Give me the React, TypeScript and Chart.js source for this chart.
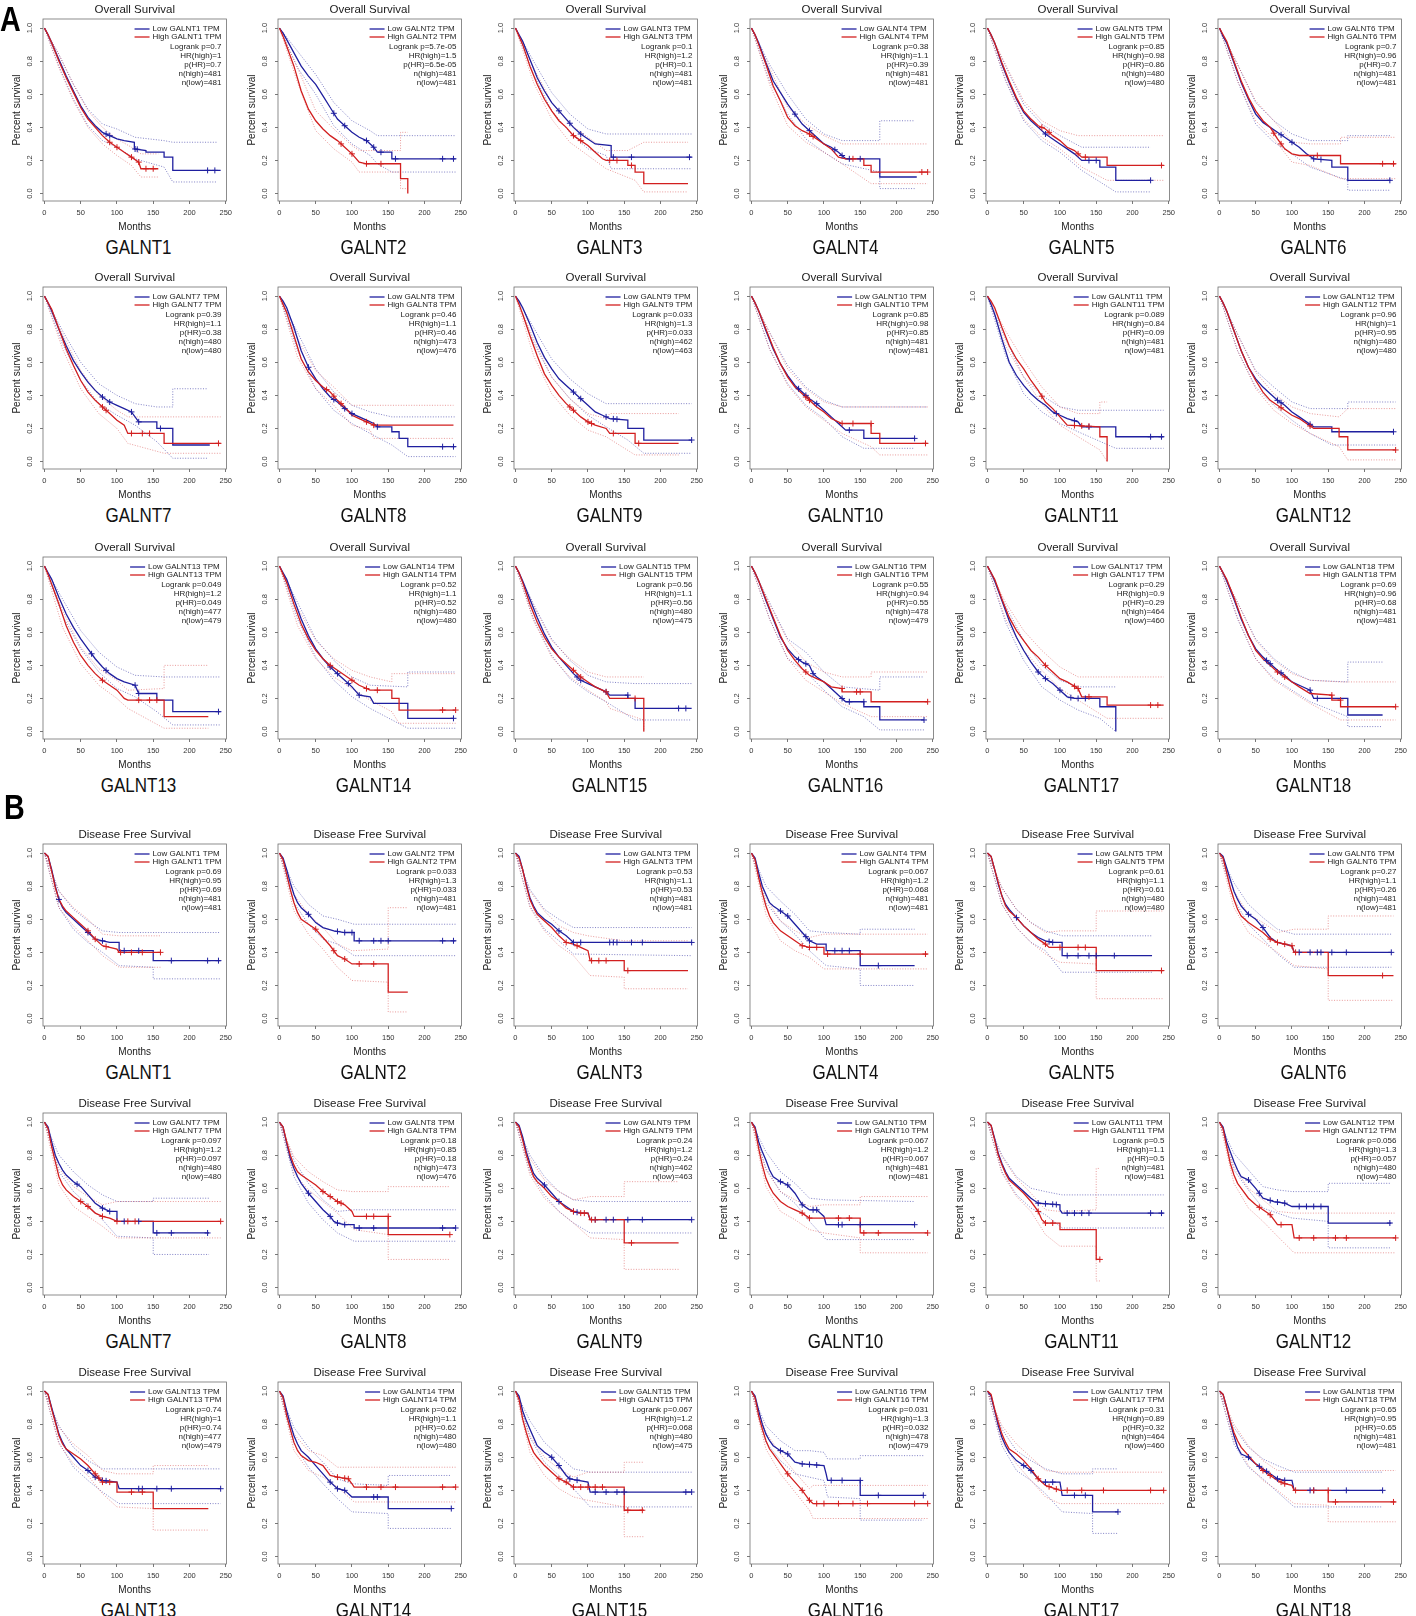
import React, { useEffect, useRef } from 'react';
import { Chart, registerables } from 'chart.js';
Chart.register(...registerables);

const FONT = "'Liberation Sans', Arial, Helvetica, sans-serif";
const BLUE = '#1f1f9f';
const RED = '#d21f1f';
const BLUE_CI = 'rgba(45,45,160,0.75)';
const RED_CI = 'rgba(215,75,75,0.7)';

const GENES = ['GALNT1','GALNT2','GALNT3','GALNT4','GALNT5','GALNT6','GALNT7','GALNT8','GALNT9','GALNT10','GALNT11','GALNT12','GALNT13','GALNT14','GALNT15','GALNT16','GALNT17','GALNT18'];
const X_TICKS = [0, 50, 100, 150, 200, 250];
const Y_TICKS = [0, 0.2, 0.4, 0.6, 0.8, 1];

// ---------- Overall survival: stats ----------
const osLogrank = ['0.7','5.7e-05','0.1','0.38','0.85','0.7','0.39','0.46','0.033','0.85','0.089','0.96','0.049','0.52','0.56','0.55','0.29','0.69'];
const osHR = ['1','1.5','1.2','1.1','0.98','0.96','1.1','1.1','1.3','0.98','0.84','1','1.2','1.1','1.1','0.94','0.9','0.96'];
const osPHR = ['0.7','6.5e-05','0.1','0.39','0.86','0.7','0.38','0.46','0.033','0.85','0.09','0.95','0.049','0.52','0.56','0.55','0.29','0.68'];
const osNHigh = [481,481,481,481,480,481,480,473,462,481,481,480,477,480,480,478,464,481];
const osNLow = [481,481,481,481,480,481,480,476,463,481,481,480,479,480,475,479,460,481];

// ---------- Disease free survival: stats ----------
const dfsLogrank = ['0.69','0.033','0.53','0.067','0.61','0.27','0.097','0.18','0.24','0.067','0.5','0.056','0.74','0.62','0.067','0.031','0.31','0.65'];
const dfsHR = ['0.95','1.3','1.1','1.2','1.1','1.1','1.2','0.85','1.2','1.2','1.1','1.3','1','1.1','1.2','1.3','0.89','0.95'];
const dfsPHR = ['0.69','0.033','0.53','0.068','0.61','0.26','0.097','0.18','0.24','0.067','0.5','0.057','0.74','0.62','0.068','0.032','0.32','0.65'];
const dfsNHigh = [481,481,481,481,480,481,480,473,462,481,481,480,477,480,480,478,464,481];
const dfsNLow = [481,481,481,481,480,481,480,476,463,481,481,480,479,480,475,479,460,481];

// ---------- OS curves (month, survival pairs) ----------
const osLow = [
  [0,1,5,.96,10,.91,20,.81,30,.71,40,.62,50,.53,60,.46,70,.41,80,.37,90,.35,100,.33,110,.32,124,.31,124,.27,140,.26,140,.25,165,.25,165,.22,177,.22,177,.14,243,.14],
  [0,1,5,.97,10,.93,20,.85,30,.77,40,.71,50,.66,60,.59,70,.52,80,.45,90,.41,100,.37,110,.34,120,.32,130,.28,135,.25,155,.25,155,.21,243,.21],
  [0,1,5,.96,10,.92,20,.81,30,.70,40,.62,50,.55,60,.50,70,.45,80,.40,90,.36,100,.33,110,.30,132,.29,132,.22,243,.22],
  [0,1,5,.96,10,.91,20,.79,30,.68,40,.61,50,.54,60,.48,70,.42,80,.38,90,.34,100,.30,110,.28,120,.25,130,.21,177,.21,177,.10,228,.10],
  [0,1,5,.96,10,.91,20,.78,30,.67,40,.57,50,.49,60,.44,70,.40,80,.36,90,.33,100,.30,110,.27,120,.24,130,.20,155,.20,155,.16,177,.16,177,.08,225,.08],
  [0,1,5,.95,10,.91,20,.79,30,.67,40,.57,50,.48,60,.43,70,.40,80,.37,90,.34,100,.31,110,.28,120,.24,130,.21,155,.20,155,.16,177,.16,177,.08,236,.08],
  [0,1,5,.96,10,.91,20,.80,30,.70,40,.61,50,.54,60,.48,70,.43,80,.39,90,.36,100,.34,110,.32,120,.30,130,.24,155,.24,155,.20,177,.20,177,.10,228,.10],
  [0,1,5,.97,10,.93,20,.81,30,.67,40,.57,50,.50,60,.44,70,.39,80,.36,90,.32,100,.29,110,.27,120,.25,130,.23,135,.21,155,.21,155,.18,165,.18,165,.14,177,.14,177,.09,243,.09],
  [0,1,5,.97,10,.93,20,.83,30,.72,40,.63,50,.56,60,.50,70,.46,80,.42,90,.38,100,.34,110,.30,120,.28,130,.26,155,.25,155,.20,177,.20,177,.13,243,.13],
  [0,1,5,.96,10,.91,20,.79,30,.68,40,.59,50,.52,60,.46,70,.42,80,.38,90,.35,100,.31,110,.27,120,.23,130,.19,155,.19,155,.14,225,.14],
  [0,1,5,.95,10,.89,20,.74,30,.60,40,.52,50,.46,60,.41,70,.37,80,.34,90,.30,100,.28,110,.26,125,.24,130,.21,177,.21,177,.15,243,.15],
  [0,1,5,.96,10,.91,20,.79,30,.67,40,.57,50,.50,60,.45,70,.41,80,.37,90,.34,100,.30,110,.27,120,.24,130,.21,155,.21,155,.18,240,.18],
  [0,1,5,.96,10,.92,20,.81,30,.71,40,.63,50,.56,60,.50,70,.44,80,.39,90,.35,100,.32,110,.30,125,.28,130,.23,155,.23,155,.19,177,.19,177,.12,243,.12],
  [0,1,5,.96,10,.92,20,.80,30,.68,40,.58,50,.50,60,.44,70,.39,80,.35,90,.31,100,.27,110,.22,125,.21,130,.17,177,.17,177,.08,240,.08],
  [0,1,5,.96,10,.91,20,.80,30,.69,40,.59,50,.51,60,.45,70,.40,80,.35,90,.31,100,.29,110,.27,125,.24,130,.22,155,.22,155,.20,165,.20,165,.14,243,.14],
  [0,1,5,.96,10,.91,20,.79,30,.68,40,.57,50,.50,60,.45,70,.42,80,.40,85,.35,90,.33,100,.30,110,.26,120,.22,130,.18,155,.18,155,.15,177,.15,177,.07,238,.07],
  [0,1,5,.96,10,.91,20,.79,30,.67,40,.57,50,.49,60,.42,70,.36,80,.32,90,.29,100,.25,110,.21,120,.20,155,.20,155,.15,177,.15,177,0],
  [0,1,5,.96,10,.91,20,.80,30,.68,40,.58,50,.50,60,.45,70,.41,80,.37,90,.34,100,.30,110,.28,125,.25,130,.20,177,.20,177,.10,225,.10],
];
const osHigh = [
  [0,1,5,.96,10,.91,20,.80,30,.70,40,.61,50,.52,60,.45,70,.40,80,.35,90,.31,100,.28,110,.25,120,.22,130,.19,133,.15,157,.15],
  [0,1,5,.95,10,.89,20,.77,30,.62,40,.51,50,.44,60,.39,70,.35,80,.32,90,.28,100,.24,110,.19,120,.18,167,.18,167,.09,177,.09,177,0],
  [0,1,5,.95,10,.90,20,.77,30,.66,40,.57,50,.50,60,.44,70,.40,80,.35,90,.32,100,.29,110,.25,120,.21,125,.20,155,.20,155,.17,165,.17,165,.13,177,.13,177,.06,238,.06],
  [0,1,5,.96,10,.90,20,.78,30,.65,40,.56,50,.46,60,.41,70,.38,80,.36,90,.33,100,.30,110,.27,120,.22,130,.21,155,.21,155,.17,165,.17,165,.13,243,.13],
  [0,1,5,.96,10,.91,20,.79,30,.68,40,.58,50,.50,60,.45,70,.41,80,.39,90,.35,100,.32,110,.28,120,.26,130,.22,165,.22,165,.17,243,.17],
  [0,1,5,.96,10,.92,20,.80,30,.68,40,.58,50,.50,60,.44,70,.40,80,.33,90,.27,100,.24,110,.23,167,.23,167,.18,243,.18],
  [0,1,5,.96,10,.92,20,.80,30,.68,40,.58,50,.49,60,.42,70,.37,80,.33,90,.29,100,.25,110,.22,115,.17,165,.17,165,.11,243,.11],
  [0,1,5,.95,10,.90,20,.76,30,.62,40,.54,50,.49,60,.45,70,.42,80,.37,90,.33,100,.28,110,.26,120,.24,130,.22,240,.22],
  [0,1,5,.95,10,.89,20,.76,30,.64,40,.53,50,.46,60,.40,70,.35,80,.31,90,.27,100,.24,110,.22,125,.20,130,.17,165,.17,165,.11,225,.11],
  [0,1,5,.96,10,.91,20,.80,30,.69,40,.59,50,.51,60,.45,70,.41,80,.37,90,.33,100,.30,110,.26,125,.23,165,.23,165,.17,177,.17,177,.11,243,.11],
  [0,1,5,.97,10,.93,20,.81,30,.70,40,.62,50,.56,60,.49,70,.43,80,.36,90,.32,100,.27,110,.22,155,.21,155,.15,165,.15,165,0],
  [0,1,5,.96,10,.91,20,.79,30,.67,40,.57,50,.49,60,.42,70,.37,80,.34,90,.31,100,.28,110,.26,120,.23,130,.20,165,.20,165,.15,177,.15,177,.07,243,.07],
  [0,1,5,.95,10,.89,20,.77,30,.64,40,.54,50,.46,60,.40,70,.35,80,.31,90,.28,100,.25,110,.20,115,.19,165,.19,165,.09,226,.09],
  [0,1,5,.95,10,.90,20,.77,30,.65,40,.56,50,.49,60,.44,70,.40,80,.37,90,.34,100,.31,110,.28,125,.25,155,.25,155,.20,165,.20,165,.13,243,.13],
  [0,1,5,.96,10,.90,20,.77,30,.66,40,.57,50,.50,60,.45,70,.41,80,.37,90,.33,100,.30,110,.27,125,.24,130,.20,177,.20,177,0],
  [0,1,5,.96,10,.91,20,.80,30,.69,40,.58,50,.49,60,.43,70,.38,80,.34,90,.32,100,.30,110,.27,125,.26,125,.24,165,.24,165,.18,243,.18],
  [0,1,5,.96,10,.92,20,.80,30,.69,40,.61,50,.55,60,.49,70,.45,80,.40,90,.36,100,.32,110,.30,125,.26,130,.21,165,.21,165,.16,243,.16],
  [0,1,5,.96,10,.92,20,.81,30,.69,40,.58,50,.49,60,.44,70,.40,80,.36,90,.33,100,.30,110,.27,125,.23,155,.22,155,.19,167,.19,167,.15,243,.15],
];
const osLowUp = [
  [0,1,20,.84,40,.66,60,.51,80,.42,100,.39,125,.34,165,.32,177,.31,238,.31],
  [0,1,25,.86,50,.72,75,.55,100,.44,125,.38,135,.35,243,.35],
  [0,1,25,.80,50,.61,75,.48,100,.39,125,.36,243,.36],
  [0,1,25,.78,50,.60,75,.45,100,.36,125,.32,177,.32,177,.44,225,.44],
  [0,1,25,.77,50,.54,75,.42,100,.35,130,.28,225,.28],
  [0,1,25,.78,50,.55,75,.44,100,.36,125,.32,177,.32,177,.35,236,.35],
  [0,1,25,.79,50,.60,75,.47,100,.40,125,.35,155,.33,177,.33,177,.44,225,.44],
  [0,1,25,.78,50,.56,75,.42,100,.34,125,.30,155,.27,243,.27],
  [0,1,25,.81,50,.62,75,.50,100,.41,125,.35,243,.35],
  [0,1,25,.78,50,.58,75,.45,100,.37,125,.33,243,.33],
  [0,1,25,.74,50,.51,75,.40,100,.33,125,.31,243,.31],
  [0,1,25,.77,50,.55,75,.45,100,.36,125,.32,177,.32,177,.36,243,.36],
  [0,1,25,.80,50,.61,75,.48,100,.39,125,.34,165,.33,243,.33],
  [0,1,25,.78,50,.56,75,.43,100,.33,125,.28,177,.27,177,.36,243,.36],
  [0,1,25,.77,50,.56,75,.43,100,.34,125,.30,165,.29,243,.29],
  [0,1,25,.78,50,.56,75,.48,100,.36,125,.27,177,.25,177,.33,238,.33],
  [0,1,25,.76,50,.55,75,.40,100,.31,125,.27,177,.27],
  [0,1,25,.78,50,.56,75,.44,100,.36,125,.31,177,.30,177,.42,225,.42],
];
const osLowDn = [
  [0,1,20,.77,40,.57,60,.41,80,.32,100,.28,125,.21,165,.16,177,.07,238,.07],
  [0,1,25,.76,50,.60,75,.41,100,.30,125,.23,135,.18,155,.13,243,.13],
  [0,1,25,.72,50,.50,75,.37,100,.27,125,.23,132,.15,243,.15],
  [0,1,25,.68,50,.48,75,.33,100,.25,125,.18,177,.13,177,.03,225,.03],
  [0,1,25,.68,50,.44,75,.32,100,.25,130,.14,177,.01,225,.01],
  [0,1,25,.68,50,.42,75,.31,100,.24,125,.16,177,.08,177,.02,236,.02],
  [0,1,25,.71,50,.49,75,.35,100,.28,125,.22,155,.12,177,.02,225,.02],
  [0,1,25,.67,50,.44,75,.31,100,.23,125,.17,155,.10,177,.03,243,.03],
  [0,1,25,.72,50,.51,75,.38,100,.28,125,.21,155,.13,177,.05,243,.05],
  [0,1,25,.68,50,.47,75,.34,100,.26,125,.15,155,.08,225,.08],
  [0,1,25,.64,50,.41,75,.30,100,.23,125,.18,177,.08,243,.08],
  [0,1,25,.67,50,.45,75,.34,100,.25,125,.17,155,.10,243,.10],
  [0,1,25,.70,50,.50,75,.36,100,.26,125,.21,155,.12,177,.04,243,.04],
  [0,1,25,.68,50,.45,75,.31,100,.21,125,.14,177,.02,243,.02],
  [0,1,25,.68,50,.46,75,.32,100,.24,125,.18,165,.07,243,.07],
  [0,1,25,.68,50,.44,75,.36,100,.25,125,.15,155,.09,177,.01,238,.01],
  [0,1,25,.66,50,.43,75,.27,100,.19,125,.13,155,.08,177,0],
  [0,1,25,.68,50,.44,75,.32,100,.25,125,.18,177,.09,177,.03,225,.03],
];
const osHighUp = [
  [0,1,20,.84,40,.66,60,.50,80,.40,100,.33,120,.28,133,.24,157,.24],
  [0,1,25,.76,50,.50,75,.39,100,.29,110,.26,167,.26,167,.37,177,.37],
  [0,1,25,.76,50,.55,75,.42,100,.34,125,.26,155,.26,177,.31,238,.31],
  [0,1,25,.76,50,.52,75,.42,100,.35,125,.30,165,.30,243,.30],
  [0,1,25,.78,50,.56,75,.44,100,.38,125,.35,243,.35],
  [0,1,25,.78,50,.56,75,.44,100,.31,125,.30,167,.30,167,.34,243,.34],
  [0,1,25,.77,50,.55,75,.40,100,.31,115,.27,243,.27],
  [0,1,25,.74,50,.55,75,.45,100,.34,125,.34,240,.34],
  [0,1,25,.74,50,.51,75,.38,100,.29,125,.26,130,.29,225,.29],
  [0,1,25,.78,50,.56,75,.44,100,.36,125,.33,243,.33],
  [0,1,25,.79,50,.61,75,.45,100,.33,125,.29,155,.29,155,.36,165,.36],
  [0,1,25,.77,50,.54,75,.41,100,.33,125,.29,165,.27,177,.32,243,.32],
  [0,1,25,.73,50,.51,75,.38,100,.31,115,.25,165,.26,165,.40,226,.40],
  [0,1,25,.75,50,.55,75,.44,100,.37,125,.33,155,.30,155,.35,243,.35],
  [0,1,25,.76,50,.55,75,.44,100,.36,125,.33,177,.33],
  [0,1,25,.77,50,.55,75,.42,100,.36,125,.33,165,.33,165,.36,243,.36],
  [0,1,25,.78,50,.61,75,.49,100,.39,125,.33,243,.33],
  [0,1,25,.78,50,.55,75,.43,100,.35,125,.31,167,.30,243,.30],
];
const osHighDn = [
  [0,1,20,.76,40,.56,60,.40,80,.30,100,.23,120,.17,133,.10,157,.10],
  [0,1,25,.67,50,.38,75,.27,100,.19,110,.13,167,.13,167,.03,177,.03],
  [0,1,25,.67,50,.45,75,.31,100,.23,125,.15,165,.08,177,.01,238,.01],
  [0,1,25,.66,50,.41,75,.31,100,.25,125,.18,165,.06,243,.06],
  [0,1,25,.69,50,.45,75,.34,100,.27,130,.16,165,.08,243,.08],
  [0,1,25,.68,50,.44,75,.33,100,.19,125,.17,167,.09,243,.09],
  [0,1,25,.68,50,.44,75,.29,100,.20,115,.11,165,.05,243,.05],
  [0,1,25,.63,50,.44,75,.34,100,.22,125,.19,130,.14,240,.14],
  [0,1,25,.64,50,.41,75,.28,100,.19,125,.15,165,.04,225,.04],
  [0,1,25,.68,50,.46,75,.33,100,.25,125,.17,165,.09,177,.04,243,.04],
  [0,1,25,.70,50,.51,75,.35,100,.22,125,.15,155,.07,165,0],
  [0,1,25,.67,50,.44,75,.31,100,.23,125,.17,165,.09,177,.01,243,.01],
  [0,1,25,.63,50,.41,75,.28,100,.20,115,.14,165,.02,226,.02],
  [0,1,25,.64,50,.44,75,.33,100,.26,125,.19,155,.12,165,.05,243,.05],
  [0,1,25,.67,50,.45,75,.33,100,.25,125,.18,130,.14,177,.07,177,0],
  [0,1,25,.68,50,.44,75,.31,100,.24,125,.17,165,.09,243,.09],
  [0,1,25,.68,50,.49,75,.37,100,.26,125,.19,165,.08,243,.08],
  [0,1,25,.69,50,.44,75,.31,100,.24,125,.17,167,.07,243,.07],
];
const osLowC = [
  [85,90,125,128,225,235],[75,90,120,130,140,160,225,240],[60,75,90,135,160,240],[60,80,115,125,135,150],
  [80,140,150,225],[85,100,130,140,235],[80,90,120,130,160],[40,75,90,100,135,225,240],
  [80,90,125,135,140,243],[65,75,90,135,225],[95,120,140,225,240],[80,85,125,240],
  [65,85,125,130,240],[70,80,95,110,240],[85,90,125,155,225,235],[65,75,85,125,135,155,238],
  [70,80,100,115,125,135],[65,70,85,125,135],
];
const osHighC = [
  [90,100,120,130,140,150],[85,100,120,140],[80,90,130,140,160],[80,85,140,235,243],
  [75,85,125,135,240],[75,85,135,225,240],[80,85,120,135,145,240],[65,75,85,120,130],
  [75,80,100,105,135,170],[75,80,125,140,165,240],[75,120,130,140],[85,125,243],
  [80,130,145,155],[70,100,120,135,225,243],[80,90,125,165],[75,125,145,150,243],
  [80,120,125,140,225,235],[80,90,155,167,243],
];

// ---------- DFS curves (month, survival pairs) ----------
const dfsLow = [
  [0,1,5,.98,10,.90,15,.80,20,.72,25,.67,30,.64,40,.60,50,.56,60,.52,70,.48,80,.47,90,.46,103,.46,103,.41,150,.41,150,.35,243,.35],
  [0,1,5,.97,10,.90,15,.82,20,.75,25,.70,30,.67,40,.63,50,.58,60,.55,75,.53,90,.52,103,.52,103,.47,243,.47],
  [0,1,5,.98,10,.90,15,.81,20,.73,25,.68,30,.64,40,.60,50,.57,60,.53,70,.50,80,.46,243,.46],
  [0,1,5,.97,10,.88,15,.80,20,.75,25,.70,30,.68,40,.65,50,.62,60,.57,70,.52,80,.47,90,.45,103,.45,103,.41,150,.41,150,.32,225,.32],
  [0,1,5,.98,10,.90,15,.81,20,.74,25,.69,30,.66,40,.61,50,.56,60,.52,70,.49,80,.47,90,.46,103,.46,103,.38,227,.38],
  [0,1,5,.98,10,.91,15,.84,20,.77,25,.72,30,.68,40,.63,50,.60,60,.55,70,.49,80,.46,90,.45,100,.44,103,.40,237,.40],
  [0,1,5,.97,10,.88,15,.80,20,.75,25,.71,30,.68,40,.64,50,.61,60,.56,70,.51,80,.48,90,.46,100,.46,100,.40,150,.40,150,.33,227,.33],
  [0,1,5,.97,10,.87,15,.78,20,.72,25,.67,30,.63,40,.57,50,.52,60,.47,70,.43,75,.40,80,.39,90,.38,103,.38,103,.36,243,.36],
  [0,1,5,.98,10,.91,15,.82,20,.75,25,.69,30,.66,40,.62,50,.57,60,.52,70,.49,80,.46,90,.45,100,.45,103,.41,243,.41],
  [0,1,5,.97,10,.88,15,.82,20,.77,25,.71,30,.67,40,.64,50,.62,60,.57,70,.50,80,.47,90,.47,100,.43,103,.38,225,.38],
  [0,1,5,.98,10,.90,15,.81,20,.75,25,.70,30,.66,40,.62,50,.58,60,.54,70,.51,100,.50,100,.47,103,.45,243,.45],
  [0,1,5,.97,10,.88,15,.82,20,.76,25,.71,30,.67,40,.65,50,.60,60,.54,75,.52,90,.51,100,.49,150,.49,150,.39,237,.39],
  [0,1,5,.98,10,.90,15,.82,20,.74,25,.69,30,.65,40,.60,50,.55,60,.52,70,.48,80,.46,100,.45,103,.41,243,.41],
  [0,1,5,.97,10,.88,15,.80,20,.73,25,.68,30,.64,40,.60,50,.55,60,.50,70,.45,80,.41,90,.40,100,.36,150,.36,150,.29,237,.29],
  [0,1,5,.97,10,.88,15,.82,20,.77,25,.72,30,.67,40,.63,50,.60,60,.55,70,.49,75,.47,100,.45,103,.39,243,.39],
  [0,1,5,.97,10,.88,15,.80,20,.74,25,.70,30,.67,40,.64,50,.62,60,.57,70,.56,100,.55,103,.50,105,.46,150,.46,150,.37,237,.37],
  [0,1,5,.97,10,.88,15,.79,20,.72,25,.67,30,.63,40,.58,50,.55,60,.52,70,.47,75,.45,100,.45,103,.37,145,.37,145,.27,180,.27],
  [0,1,5,.98,10,.90,15,.81,20,.73,25,.66,30,.62,40,.60,50,.56,60,.53,70,.50,80,.47,90,.46,100,.46,103,.40,225,.40],
];
const dfsHigh = [
  [0,1,5,.98,10,.89,15,.79,20,.72,25,.68,30,.65,40,.61,50,.57,60,.53,70,.48,80,.44,90,.43,100,.42,103,.40,160,.40],
  [0,1,5,.96,10,.87,15,.78,20,.70,25,.64,30,.60,40,.57,50,.54,60,.49,70,.44,80,.38,90,.36,100,.33,150,.33,150,.16,177,.16],
  [0,1,5,.97,10,.90,15,.80,20,.72,25,.67,30,.63,40,.59,50,.55,60,.50,70,.46,80,.45,90,.43,100,.41,103,.35,150,.35,150,.29,238,.29],
  [0,1,5,.96,10,.85,15,.76,20,.68,25,.62,30,.58,40,.53,50,.50,60,.47,70,.44,80,.43,100,.43,100,.39,243,.39],
  [0,1,5,.98,10,.90,15,.82,20,.74,25,.68,30,.65,40,.61,50,.56,60,.52,70,.48,80,.45,85,.43,150,.43,150,.29,243,.29],
  [0,1,5,.97,10,.88,15,.79,20,.72,25,.66,30,.62,40,.58,50,.55,60,.52,70,.48,80,.46,90,.45,100,.44,103,.40,150,.40,150,.26,240,.26],
  [0,1,5,.96,10,.85,15,.76,20,.67,25,.62,30,.59,40,.55,50,.52,60,.49,70,.45,80,.43,90,.42,100,.40,243,.40],
  [0,1,5,.97,10,.88,15,.80,20,.74,25,.70,30,.68,40,.65,50,.62,60,.58,70,.55,80,.52,90,.50,100,.46,103,.43,150,.43,150,.32,235,.32],
  [0,1,5,.97,10,.89,15,.80,20,.73,25,.67,30,.64,40,.60,50,.55,60,.52,70,.48,80,.46,90,.45,100,.45,103,.41,150,.41,150,.27,225,.27],
  [0,1,5,.96,10,.84,15,.74,20,.66,25,.61,30,.57,40,.52,50,.49,60,.47,70,.45,80,.42,150,.42,150,.33,243,.33],
  [0,1,5,.98,10,.89,15,.80,20,.74,25,.69,30,.65,40,.61,50,.57,60,.52,70,.46,75,.41,80,.39,100,.39,100,.35,150,.35,150,.17,155,.17],
  [0,1,5,.96,10,.85,15,.75,20,.68,25,.63,30,.60,40,.54,50,.50,60,.47,70,.44,75,.41,80,.38,100,.38,103,.30,243,.30],
  [0,1,5,.98,10,.89,15,.81,20,.73,25,.68,30,.65,40,.62,50,.59,60,.55,70,.50,80,.45,100,.45,100,.39,150,.39,150,.29,226,.29],
  [0,1,5,.96,10,.85,15,.77,20,.69,25,.64,30,.61,40,.58,50,.57,60,.55,70,.49,80,.48,95,.47,100,.44,103,.42,243,.42],
  [0,1,5,.95,10,.83,15,.75,20,.68,25,.63,30,.60,40,.55,50,.51,60,.47,70,.45,80,.42,150,.42,150,.28,177,.28],
  [0,1,5,.96,10,.85,15,.77,20,.70,25,.65,30,.62,40,.56,50,.50,60,.45,70,.40,80,.34,85,.32,243,.32],
  [0,1,5,.98,10,.89,15,.81,20,.74,25,.69,30,.65,40,.62,50,.58,60,.53,70,.47,75,.45,80,.43,100,.40,243,.40],
  [0,1,5,.98,10,.90,15,.82,20,.75,25,.70,30,.66,40,.61,50,.56,60,.52,70,.49,80,.46,90,.44,100,.43,103,.40,150,.40,150,.33,243,.33],
];
const dfsLowUp = [
  [0,1,20,.77,40,.66,60,.59,80,.53,103,.52,243,.52],
  [0,1,20,.80,40,.69,60,.62,80,.60,103,.57,243,.57],
  [0,1,20,.78,40,.66,60,.60,80,.55,243,.55],
  [0,1,20,.80,40,.71,60,.63,80,.53,103,.52,150,.51,150,.54,225,.54],
  [0,1,20,.79,40,.66,60,.58,80,.53,103,.50,227,.50],
  [0,1,20,.82,40,.69,60,.61,80,.54,103,.51,237,.51],
  [0,1,20,.80,40,.70,60,.62,80,.56,100,.52,150,.52,150,.54,227,.54],
  [0,1,20,.77,40,.63,60,.53,80,.46,103,.47,243,.47],
  [0,1,20,.80,40,.67,60,.58,80,.53,103,.52,243,.52],
  [0,1,20,.82,40,.70,60,.63,80,.54,103,.53,225,.52],
  [0,1,20,.80,40,.67,60,.60,80,.58,103,.56,243,.56],
  [0,1,20,.81,40,.71,60,.61,80,.59,100,.58,150,.58,150,.63,237,.63],
  [0,1,20,.79,40,.66,60,.58,80,.53,103,.53,243,.53],
  [0,1,20,.78,40,.66,60,.57,80,.47,100,.44,150,.43,150,.49,237,.49],
  [0,1,20,.82,40,.69,60,.61,80,.53,103,.51,243,.51],
  [0,1,20,.79,40,.70,60,.64,80,.64,100,.63,105,.59,150,.59,150,.61,237,.61],
  [0,1,20,.77,40,.64,60,.58,80,.53,103,.50,145,.50,145,.53,180,.53],
  [0,1,20,.78,40,.66,60,.59,80,.55,103,.51,225,.51],
];
const dfsLowDn = [
  [0,1,20,.67,40,.54,60,.46,80,.40,103,.32,150,.31,150,.24,243,.24],
  [0,1,20,.70,40,.57,60,.48,80,.45,103,.38,243,.38],
  [0,1,20,.68,40,.54,60,.47,80,.39,243,.38],
  [0,1,20,.70,40,.59,60,.51,80,.41,103,.32,150,.30,150,.20,225,.20],
  [0,1,20,.69,40,.55,60,.46,80,.41,103,.28,227,.28],
  [0,1,20,.72,40,.57,60,.48,80,.39,103,.31,237,.31],
  [0,1,20,.70,40,.58,60,.50,80,.41,100,.31,150,.30,150,.20,227,.20],
  [0,1,20,.67,40,.51,60,.41,80,.33,103,.28,243,.28],
  [0,1,20,.70,40,.56,60,.46,80,.39,103,.33,243,.33],
  [0,1,20,.72,40,.58,60,.51,80,.40,103,.29,225,.29],
  [0,1,20,.70,40,.56,60,.48,80,.44,103,.36,243,.36],
  [0,1,20,.71,40,.59,60,.48,80,.45,100,.42,150,.40,150,.24,237,.24],
  [0,1,20,.69,40,.54,60,.46,80,.39,103,.32,243,.32],
  [0,1,20,.68,40,.54,60,.44,80,.35,100,.27,150,.26,150,.17,237,.17],
  [0,1,20,.72,40,.57,60,.49,80,.41,103,.30,243,.30],
  [0,1,20,.69,40,.58,60,.50,80,.48,100,.46,105,.36,150,.35,150,.22,237,.22],
  [0,1,20,.67,40,.52,60,.46,80,.38,103,.27,145,.26,145,.14,180,.14],
  [0,1,20,.68,40,.54,60,.47,80,.39,103,.30,225,.30],
];
const dfsHighUp = [
  [0,1,20,.77,40,.67,60,.60,80,.51,103,.50,160,.50],
  [0,1,20,.75,40,.63,60,.55,80,.45,100,.41,150,.42,150,.67,177,.67],
  [0,1,20,.77,40,.65,60,.56,80,.52,100,.50,150,.47,238,.47],
  [0,1,20,.73,40,.59,60,.53,80,.49,100,.51,243,.51],
  [0,1,20,.79,40,.66,60,.58,80,.52,100,.53,150,.53,150,.65,243,.65],
  [0,1,20,.77,40,.63,60,.58,80,.52,103,.54,150,.54,150,.62,240,.62],
  [0,1,20,.72,40,.61,60,.55,80,.50,100,.52,243,.52],
  [0,1,20,.79,40,.70,60,.64,80,.59,100,.58,150,.58,150,.61,235,.61],
  [0,1,20,.78,40,.65,60,.58,80,.53,103,.55,150,.55,150,.64,225,.64],
  [0,1,20,.71,40,.58,60,.53,80,.49,100,.50,150,.50,150,.55,243,.55],
  [0,1,20,.79,40,.66,60,.57,80,.47,100,.46,150,.47,150,.72,155,.72],
  [0,1,20,.73,40,.60,60,.53,80,.46,103,.45,243,.45],
  [0,1,20,.78,40,.68,60,.61,80,.52,100,.50,150,.50,150,.55,226,.55],
  [0,1,20,.74,40,.64,60,.61,80,.54,103,.54,243,.54],
  [0,1,20,.73,40,.60,60,.53,80,.48,100,.51,150,.51,150,.57,177,.57],
  [0,1,20,.75,40,.62,60,.51,80,.41,85,.43,243,.43],
  [0,1,20,.79,40,.68,60,.60,80,.52,100,.51,243,.51],
  [0,1,20,.80,40,.67,60,.58,80,.52,103,.52,243,.52],
];
const dfsHighDn = [
  [0,1,20,.67,40,.56,60,.47,80,.38,103,.31,160,.31],
  [0,1,20,.65,40,.51,60,.42,80,.31,100,.23,150,.22,150,.04,177,.04],
  [0,1,20,.67,40,.53,60,.44,80,.38,103,.26,150,.25,150,.18,238,.18],
  [0,1,20,.63,40,.47,60,.41,80,.37,100,.30,243,.30],
  [0,1,20,.69,40,.55,60,.46,80,.39,100,.34,150,.33,150,.12,243,.12],
  [0,1,20,.67,40,.52,60,.46,80,.40,103,.32,150,.30,150,.11,240,.11],
  [0,1,20,.62,40,.49,60,.43,80,.37,100,.30,243,.30],
  [0,1,20,.69,40,.59,60,.52,80,.45,103,.35,150,.32,150,.17,235,.17],
  [0,1,20,.68,40,.54,60,.46,80,.39,103,.30,150,.29,150,.11,225,.11],
  [0,1,20,.61,40,.46,60,.41,80,.35,100,.33,150,.30,150,.21,243,.21],
  [0,1,20,.69,40,.55,60,.46,80,.32,100,.25,150,.25,150,.04,155,.04],
  [0,1,20,.63,40,.48,60,.40,80,.31,103,.21,243,.21],
  [0,1,20,.68,40,.56,60,.49,80,.38,100,.30,150,.29,150,.16,226,.16],
  [0,1,20,.64,40,.52,60,.48,80,.42,103,.33,243,.33],
  [0,1,20,.63,40,.49,60,.41,80,.36,100,.34,150,.30,150,.12,177,.12],
  [0,1,20,.65,40,.50,60,.39,80,.28,85,.23,243,.23],
  [0,1,20,.69,40,.56,60,.46,80,.36,100,.32,243,.32],
  [0,1,20,.70,40,.55,60,.46,80,.40,103,.32,150,.31,150,.21,243,.21],
];
const dfsLowC = [
  [20,60,80,110,130,175,225,240],[40,80,90,100,110,130,140,150,225,240],[60,80,90,130,135,140,160,175,243],
  [40,50,75,80,115,125,135,175],[40,85,90,110,125,140,150,175],[40,60,110,125,135,140,155,175,237],
  [45,80,90,110,130,155,175,225],[40,70,80,90,110,130,225,243],[40,60,80,85,110,125,135,155,175,243],
  [40,50,70,85,90,120,125,150,225],[70,80,90,95,110,120,130,140,225,240],[40,55,70,80,90,110,120,130,140,235],
  [60,70,80,85,130,135,155,175,243],[70,80,90,130,135,237],[50,60,75,85,110,125,140,150,235,243],
  [40,50,70,80,90,110,125,150,175,237],[50,60,80,90,120,135,180],[40,55,65,80,90,125,130,175,225],
];
const dfsHighC = [
  [60,70,85,105,120,135,160],[50,75,90,110,130],[70,85,105,115,125,155],
  [70,80,90,105,150,240],[80,100,125,135,240],[70,80,90,100,105,225],
  [50,60,80,100,115,125,243],[60,70,80,85,120,130,150,235],[80,90,95,105,110,160],
  [70,80,120,135,155,175,243],[70,80,90,155],[55,70,85,110,130,160,175,243],
  [70,75,80,90,120,135],[80,90,95,120,140,160,225,243],[60,70,80,90,100,110,120,155,175],
  [50,70,80,90,100,120,140,160,225,243],[70,85,95,110,130,160,225,243],[60,70,85,90,105,130,150,160,240],
];

// ---------- layout ----------
const COL_X = [0, 235, 471, 707, 943, 1175];
const ROW_Y = [0, 268, 538, 825, 1094, 1363];
const W = 236;
const H = 236;
const PLOT_L = 43;
const PLOT_R = 234;

const SETS: any = {
  OS: { title: 'Overall Survival', low: osLow, high: osHigh, lowUp: osLowUp, lowDn: osLowDn, highUp: osHighUp, highDn: osHighDn, lowC: osLowC, highC: osHighC, logrank: osLogrank, hr: osHR, phr: osPHR, nHigh: osNHigh, nLow: osNLow },
  DFS: { title: 'Disease Free Survival', low: dfsLow, high: dfsHigh, lowUp: dfsLowUp, lowDn: dfsLowDn, highUp: dfsHighUp, highDn: dfsHighDn, lowC: dfsLowC, highC: dfsHighC, logrank: dfsLogrank, hr: dfsHR, phr: dfsPHR, nHigh: dfsNHigh, nLow: dfsNLow },
};

function toPoints(a: number[]) {
  const out: { x: number; y: number }[] = [];
  for (let k = 0; k + 1 < a.length; k += 2) out.push({ x: a[k], y: a[k + 1] });
  return out;
}

// position of the drawn curve at month t (for placing censor marks on it)
function valueAt(a: number[], t: number) {
  for (let k = 0; k + 3 < a.length; k += 2) {
    const x0 = a[k], y0 = a[k + 1], x1 = a[k + 2], y1 = a[k + 3];
    if (x1 > x0 && t >= x0 && t <= x1) return y0 + ((y1 - y0) * (t - x0)) / (x1 - x0);
  }
  return a[a.length - 1];
}

function Panel({ kind, i }: { kind: string; i: number }) {
  const ref = useRef<HTMLCanvasElement | null>(null);
  useEffect(() => {
    const s = SETS[kind];
    const gene = GENES[i];
    const low = s.low[i];
    const high = s.high[i];
    const line = (a: number[], color: string) => ({ data: toPoints(a), borderColor: color, borderWidth: 1.3, pointRadius: 0, tension: 0, fill: false });
    const ci = (a: number[], color: string) => ({ data: toPoints(a), borderColor: color, borderWidth: 0.8, borderDash: [1, 1.6], pointRadius: 0, tension: 0, fill: false });
    const cens = (curve: number[], ts: number[], color: string) => ({
      data: ts.map((t) => ({ x: t, y: valueAt(curve, t) })),
      showLine: false, pointStyle: 'cross', pointRadius: 3, pointBorderWidth: 1,
      borderColor: color, pointBorderColor: color, backgroundColor: color,
    });
    const stats = [`Logrank p=${s.logrank[i]}`, `HR(high)=${s.hr[i]}`, `p(HR)=${s.phr[i]}`, `n(high)=${s.nHigh[i]}`, `n(low)=${s.nLow[i]}`];

    const textPlugin = {
      id: 'kmText',
      afterDraw(chart: any) {
        const { ctx, chartArea: a, scales } = chart;
        ctx.save();
        ctx.strokeStyle = '#707070';
        ctx.lineWidth = 0.8;
        ctx.strokeRect(a.left, a.top, a.right - a.left, a.bottom - a.top);
        const cx = (a.left + a.right) / 2;
        ctx.fillStyle = '#1a1a1a';
        ctx.font = `11.5px ${FONT}`;
        ctx.textAlign = 'center';
        ctx.textBaseline = 'middle';
        ctx.fillText(s.title, cx, 10);
        ctx.font = `7.5px ${FONT}`;
        ctx.fillStyle = '#333';
        for (const v of Y_TICKS) {
          const y = scales.y.getPixelForValue(v);
          ctx.save();
          ctx.translate(a.left - 13, y);
          ctx.rotate(-Math.PI / 2);
          ctx.fillText(v.toFixed(1), 0, 0);
          ctx.restore();
        }
        ctx.font = `8px ${FONT}`;
        ctx.fillStyle = '#222';
        const right = a.right - 5;
        const t1 = `Low ${gene} TPM`;
        const t2 = `High ${gene} TPM`;
        const w = Math.max(ctx.measureText(t1).width, ctx.measureText(t2).width);
        const tx = right - w;
        const rows: [string, string, number][] = [[t1, BLUE, a.top + 10], [t2, RED, a.top + 18]];
        for (const [t, c, y] of rows) {
          ctx.strokeStyle = c;
          ctx.lineWidth = 1.3;
          ctx.beginPath();
          ctx.moveTo(tx - 18, y);
          ctx.lineTo(tx - 3, y);
          ctx.stroke();
          ctx.textAlign = 'left';
          ctx.fillText(t, tx, y);
        }
        ctx.textAlign = 'right';
        stats.forEach((t, k) => ctx.fillText(t, right, a.top + 28 + k * 9));
        ctx.restore();
      },
    };

    const chart = new Chart(ref.current as HTMLCanvasElement, {
      type: 'line',
      data: {
        datasets: [
          cens(high, s.highC[i], RED),
          cens(low, s.lowC[i], BLUE),
          line(high, RED),
          line(low, BLUE),
          ci(s.highUp[i], RED_CI),
          ci(s.highDn[i], RED_CI),
          ci(s.lowUp[i], BLUE_CI),
          ci(s.lowDn[i], BLUE_CI),
        ] as any,
      },
      options: {
        animation: false,
        responsive: false,
        devicePixelRatio: 1,
        events: [],
        layout: { padding: { top: 19, right: W - PLOT_R, left: 0, bottom: 0 } },
        plugins: { legend: { display: false }, tooltip: { enabled: false }, title: { display: false } },
        scales: {
          x: {
            type: 'linear', min: -2, max: 251,
            afterBuildTicks: (sc: any) => { sc.ticks = X_TICKS.map((v) => ({ value: v })); },
            afterFit: (sc: any) => { sc.height = 35; },
            grid: { drawOnChartArea: false, drawTicks: true, tickLength: 3, color: '#555', lineWidth: 0.8 },
            border: { display: false },
            ticks: { autoSkip: false, maxRotation: 0, minRotation: 0, padding: 4, color: '#333', font: { family: FONT, size: 7.5 }, callback: (v: any) => String(v) },
            title: { display: true, text: 'Months', color: '#1a1a1a', font: { family: FONT, size: 10 }, padding: { top: 0, bottom: 3 } },
          },
          y: {
            type: 'linear', min: -0.045, max: 1.055,
            afterBuildTicks: (sc: any) => { sc.ticks = Y_TICKS.map((v) => ({ value: v })); },
            afterFit: (sc: any) => { sc.width = PLOT_L; },
            grid: { drawOnChartArea: false, drawTicks: true, tickLength: 3, color: '#555', lineWidth: 0.8 },
            border: { display: false },
            ticks: { color: 'rgba(0,0,0,0)', font: { family: FONT, size: 7.5 }, padding: 2 },
            title: { display: true, text: 'Percent survival', color: '#1a1a1a', font: { family: FONT, size: 10 }, padding: { top: 11, bottom: 0 } },
          },
        },
      } as any,
      plugins: [textPlugin as any],
    });
    return () => chart.destroy();
  }, [kind, i]);
  return <canvas ref={ref} width={W} height={H} style={{ display: 'block', width: W, height: H }} />;
}

export default function App() {
  const cells: any[] = [];
  ROW_Y.forEach((top, r) => {
    const kind = r < 3 ? 'OS' : 'DFS';
    COL_X.forEach((left, c) => {
      const i = (r % 3) * 6 + c;
      cells.push(
        <div key={`${kind}-${i}`} style={{ position: 'absolute', left, top, width: W, height: H + 26 }}>
          <Panel kind={kind} i={i} />
          <div
            style={{
              position: 'absolute', left: PLOT_L, width: PLOT_R - PLOT_L, top: H, height: 22,
              lineHeight: '22px', textAlign: 'center', fontSize: 20, color: '#111',
              fontFamily: FONT, transform: 'scaleX(0.85)', whiteSpace: 'nowrap',
            }}
          >
            {GENES[i]}
          </div>
        </div>
      );
    });
  });
  return (
    <div style={{ position: 'absolute', left: 0, top: 0, width: 1416, height: 1616, background: '#fff', overflow: 'hidden', fontFamily: FONT }}>
      {cells}
      <div style={{ position: 'absolute', left: 0, top: -1, fontSize: 35, lineHeight: '40px', fontWeight: 'bold', color: '#000', transform: 'scaleX(0.82)', transformOrigin: 'left top' }}>A</div>
      <div style={{ position: 'absolute', left: 4, top: 787, fontSize: 35, lineHeight: '40px', fontWeight: 'bold', color: '#000', transform: 'scaleX(0.82)', transformOrigin: 'left top' }}>B</div>
    </div>
  );
}
